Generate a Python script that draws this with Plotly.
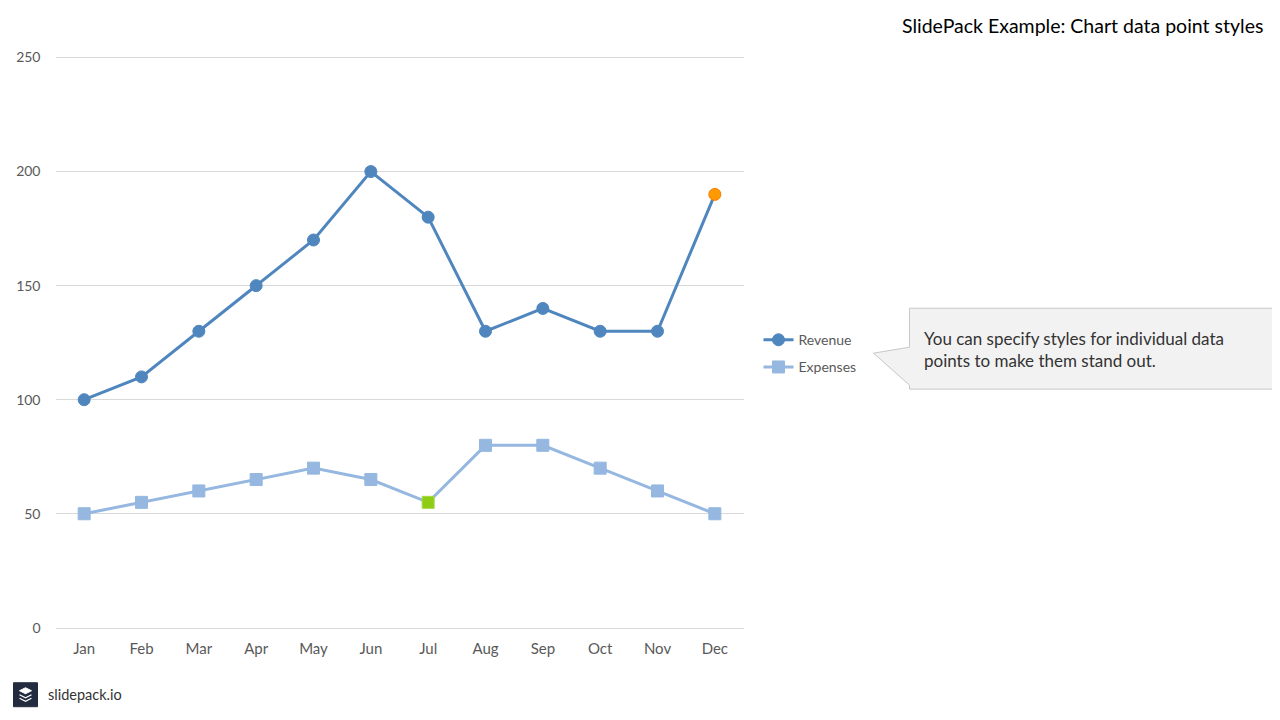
import plotly.graph_objects as go

# --- chart data ---
months = ["Jan", "Feb", "Mar", "Apr", "May", "Jun", "Jul", "Aug", "Sep", "Oct", "Nov", "Dec"]
revenue = [100, 110, 130, 150, 170, 200, 180, 130, 140, 130, 130, 190]
expenses = [50, 55, 60, 65, 70, 65, 55, 80, 80, 70, 60, 50]
y_ticks = [0, 50, 100, 150, 200, 250]

# points that get their own style
revenue_highlight = "Dec"
expenses_highlight = "Jul"

W, H = 1280, 720
FONT = "Lato, 'Open Sans', sans-serif"

REV_BLUE = "#4f86be"
EXP_BLUE = "#95b7e0"

# the page puts the figure a little lower/right than 0,0 and a bit shorter,
# so screen pixels are converted with the offsets measured in earlier renders
OFF_X, OFF_Y, REAL_H = 7.5, 11.4, 708.9


def px(x):
    return (x - OFF_X) / W


def py(y):
    return 1 - (y - OFF_Y) / REAL_H


rev_colors = ["#ff9a00" if m == revenue_highlight else REV_BLUE for m in months]
rev_lines = ["#ff7a00" if m == revenue_highlight else REV_BLUE for m in months]
exp_colors = ["#8fcc14" if m == expenses_highlight else EXP_BLUE for m in months]
exp_lines = ["#a6d84a" if m == expenses_highlight else EXP_BLUE for m in months]

fig = go.Figure()
fig.add_trace(go.Scatter(
    x=months, y=revenue, name="Revenue", mode="lines+markers", legendgroup="rev",
    line=dict(color=REV_BLUE, width=3),
    marker=dict(symbol="circle", size=12, color=rev_colors,
                line=dict(color=rev_lines, width=1)),
))
fig.add_trace(go.Scatter(
    x=months, y=expenses, name="Expenses", mode="lines+markers", legendgroup="exp",
    line=dict(color=EXP_BLUE, width=3),
    marker=dict(symbol="square", size=12, color=exp_colors,
                line=dict(color=exp_lines, width=1)),
))

# callout bubble
callout = (
    f"M {px(909)},{py(308)} L {px(1272)},{py(308)} L {px(1272)},{py(389)} "
    f"L {px(909)},{py(389)} L {px(909)},{py(385)} L {px(873)},{py(353)} "
    f"L {px(909)},{py(347)} Z"
)
shapes = [
    dict(type="path", xref="paper", yref="paper", path=callout,
         fillcolor="#f2f2f2", line=dict(color="#c8c8c8", width=1)),
    # logo square
    dict(type="rect", xref="paper", yref="paper",
         x0=px(13), x1=px(37), y0=py(707), y1=py(683),
         fillcolor="#232c3f", line=dict(color="#232c3f", width=1)),
    dict(type="path", xref="paper", yref="paper",
         path=f"M {px(19)},{py(691)} L {px(25)},{py(688)} L {px(31)},{py(691)} L {px(25)},{py(694)} Z",
         fillcolor="white", line=dict(color="white", width=1)),
    dict(type="path", xref="paper", yref="paper",
         path=f"M {px(19)},{py(695)} L {px(25)},{py(698)} L {px(31)},{py(695)}",
         line=dict(color="white", width=1.2)),
    dict(type="path", xref="paper", yref="paper",
         path=f"M {px(19)},{py(698.5)} L {px(25)},{py(701.5)} L {px(31)},{py(698.5)}",
         line=dict(color="white", width=1.2)),
]

annotations = [
    dict(text="SlidePack Example: Chart data point styles", xref="paper", yref="paper",
         x=px(1264), y=py(25), xanchor="right", yanchor="middle", showarrow=False,
         font=dict(family=FONT, size=19.5, color="black")),
    dict(text="You can specify styles for individual data<br>points to make them stand out.",
         xref="paper", yref="paper", x=px(921), y=py(349.5), xanchor="left", yanchor="middle",
         align="left", showarrow=False,
         font=dict(family=FONT, size=17, color="#333333")),
    dict(text="slidepack.io", xref="paper", yref="paper", x=px(45), y=py(695),
         xanchor="left", yanchor="middle", showarrow=False,
         font=dict(family=FONT, size=14.5, color="#333333")),
]

fig.update_layout(
    width=W, height=H,
    margin=dict(l=0, r=0, t=0, b=0),
    paper_bgcolor="white", plot_bgcolor="white",
    font=dict(family=FONT, color="#595959", size=14),
    xaxis=dict(domain=[px(55), px(743)], range=[-0.5, 11.5], showgrid=False,
               showline=True, linecolor="#d9d9d9", ticks="", ticklabelstandoff=7,
               tickfont=dict(size=15, color="#595959")),
    yaxis=dict(domain=[py(628), py(52.4)], range=[0, 252], tickvals=y_ticks,
               showgrid=True, gridcolor="#d9d9d9", gridwidth=1, zeroline=False,
               showline=False, ticks="", ticklabelstandoff=14,
               tickfont=dict(size=14, color="#595959")),
    legend=dict(x=px(758), y=py(353.5), xanchor="left", yanchor="middle",
                font=dict(size=14, color="#595959"), itemwidth=30,
                tracegroupgap=6, bgcolor="rgba(0,0,0,0)"),
    shapes=shapes,
    annotations=annotations,
)

fig.write_html("out.html")
